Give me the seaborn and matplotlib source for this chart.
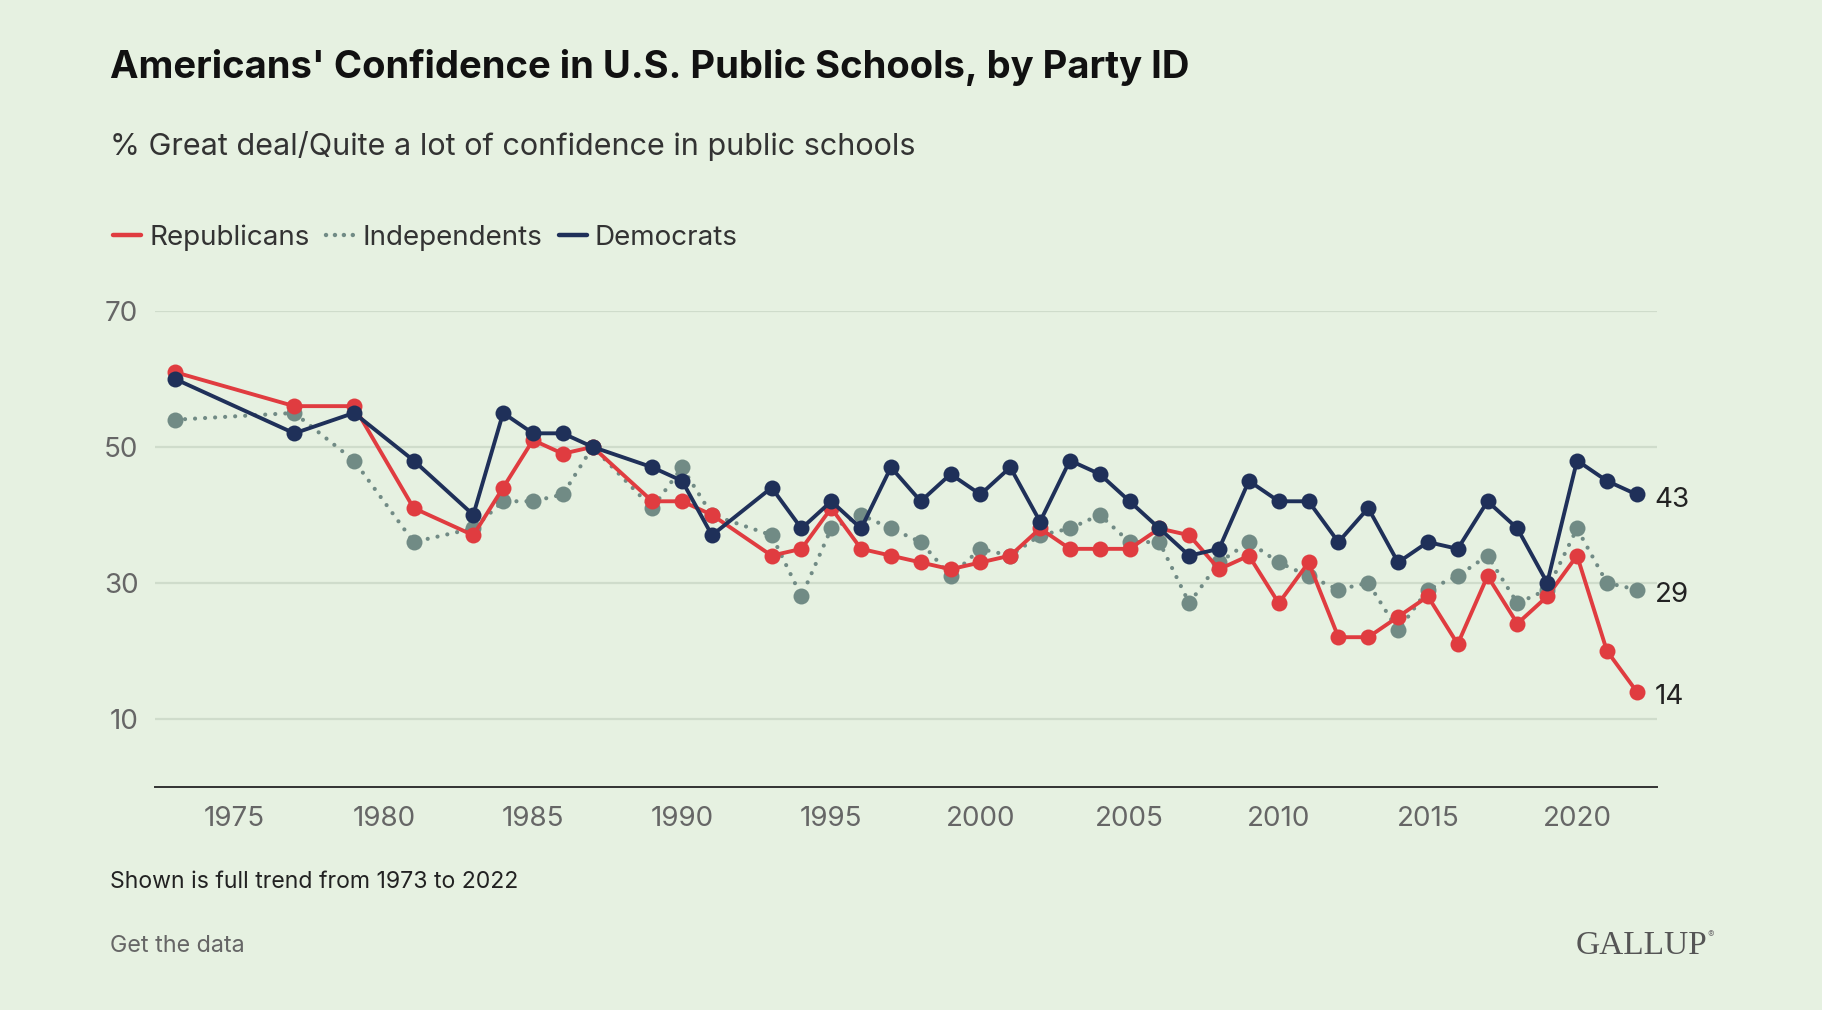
import matplotlib
matplotlib.use("Agg")
import matplotlib.pyplot as plt
from matplotlib.lines import Line2D
import seaborn as sns
import pandas as pd

years = [1973, 1977, 1979, 1981, 1983, 1984, 1985, 1986, 1987, 1989, 1990, 1991,
         1993, 1994, 1995, 1996, 1997, 1998, 1999, 2000, 2001, 2002, 2003, 2004,
         2005, 2006, 2007, 2008, 2009, 2010, 2011, 2012, 2013, 2014, 2015, 2016,
         2017, 2018, 2019, 2020, 2021, 2022]
republicans = [61, 56, 56, 41, 37, 44, 51, 49, 50, 42, 42, 40,
               34, 35, 41, 35, 34, 33, 32, 33, 34, 38, 35, 35,
               35, 38, 37, 32, 34, 27, 33, 22, 22, 25, 28, 21,
               31, 24, 28, 34, 20, 14]
independents = [54, 55, 48, 36, 38, 42, 42, 43, 50, 41, 47, 40,
                37, 28, 38, 40, 38, 36, 31, 35, 34, 37, 38, 40,
                36, 36, 27, 33, 36, 33, 31, 29, 30, 23, 29, 31,
                34, 27, 29, 38, 30, 29]
democrats = [60, 52, 55, 48, 40, 55, 52, 52, 50, 47, 45, 37,
             44, 38, 42, 38, 47, 42, 46, 43, 47, 39, 48, 46,
             42, 38, 34, 35, 45, 42, 42, 36, 41, 33, 36, 35,
             42, 38, 30, 48, 45, 43]
parties = ["Republicans", "Independents", "Democrats"]
x_ticks = [1975, 1980, 1985, 1990, 1995, 2000, 2005, 2010, 2015, 2020]
y_ticks = [10, 30, 50, 70]

BG = "#e6f1e1"
RED = "#e03c40"
GRAY = "#718b85"
NAVY = "#1f3059"
colors = {"Republicans": RED, "Independents": GRAY, "Democrats": NAVY}

sns.set_theme(style="white")
plt.rcParams["font.family"] = ["Inter", "DejaVu Sans"]

df = pd.DataFrame({
    "year": years * 3,
    "value": republicans + independents + democrats,
    "party": [parties[0]] * len(years) + [parties[1]] * len(years) + [parties[2]] * len(years),
})

fig = plt.figure(figsize=(18.22, 10.10), dpi=100, facecolor=BG)
ax = fig.add_axes([155 / 1822, 1 - 786.7 / 1010, (1656.7 - 155) / 1822, (786.7 - 311) / 1010])
ax.set_facecolor(BG)

for yv in y_ticks:
    ax.axhline(yv, color="#cfdccb", lw=1.6, zorder=0)

order = ["Independents", "Republicans", "Democrats"]
for p in order:
    sub = df[df["party"] == p]
    sns.lineplot(data=sub, x="year", y="value", ax=ax, color=colors[p],
                 lw=2.8, marker="o", markersize=11.5, markeredgewidth=0,
                 legend=False, zorder=3, clip_on=False)
# style the independents line as dotted
indep_line = ax.lines[len(y_ticks)]
indep_line.set_linestyle((0, (0.01, 2.4)))
indep_line.set_dash_capstyle("round")
indep_line.set_linewidth(3.0)

ax.set_xlim(1972.33, 2022.67)
ax.set_ylim(0, 70)
ax.set_xticks(x_ticks)
ax.set_yticks(y_ticks)
ax.tick_params(axis="x", length=0, pad=14, labelsize=20, labelcolor="#666666")
ax.tick_params(axis="y", length=0, pad=12, labelsize=20, labelcolor="#666666")
ax.set_xlabel("")
ax.set_ylabel("")
for s in ["top", "right", "left"]:
    ax.spines[s].set_visible(False)
ax.spines["bottom"].set_color("#333333")
ax.spines["bottom"].set_linewidth(1.4)
ax.grid(False)

# End labels
for series in [republicans, independents, democrats]:
    ax.annotate(str(series[-1]), xy=(years[-1], series[-1]), xytext=(13, -4),
                textcoords="offset points", va="center", ha="left",
                fontsize=20, color="#222222")

# Titles
fig.text(110 / 1822, 1 - 67 / 1010, "Americans' Confidence in U.S. Public Schools, by Party ID",
         fontsize=27.5, fontweight="bold", color="#111111", va="center", ha="left")
fig.text(110 / 1822, 1 - 146 / 1010, "% Great deal/Quite a lot of confidence in public schools",
         fontsize=22, color="#333333", va="center", ha="left")

handles = [
    Line2D([], [], color=RED, lw=3.2),
    Line2D([], [], color=GRAY, lw=3.2, linestyle=(0, (0.01, 2.0)), dash_capstyle="round"),
    Line2D([], [], color=NAVY, lw=3.2),
]
leg = fig.legend(handles, parties, loc="center left", bbox_to_anchor=(88 / 1822, 1 - 237.5 / 1010),
                 ncol=3, frameon=False, fontsize=20, handlelength=1.0, handletextpad=0.3,
                 columnspacing=0.6, labelcolor="#333333")

fig.text(110 / 1822, 1 - 881.5 / 1010, "Shown is full trend from 1973 to 2022",
         fontsize=16.6, color="#222222", va="center", ha="left")
fig.text(110 / 1822, 1 - 946.5 / 1010, "Get the data",
         fontsize=16.8, color="#666666", va="center", ha="left")
fig.text(1576 / 1822, 1 - 946 / 1010, "GALLUP",
         fontsize=24, color="#555555", va="center", ha="left",
         family=["Liberation Serif", "DejaVu Serif"])
fig.text(1708 / 1822, 1 - 935 / 1010, "®", fontsize=7, color="#777777",
         va="center", ha="left")

fig.savefig("out.png", dpi=100, facecolor=BG)
